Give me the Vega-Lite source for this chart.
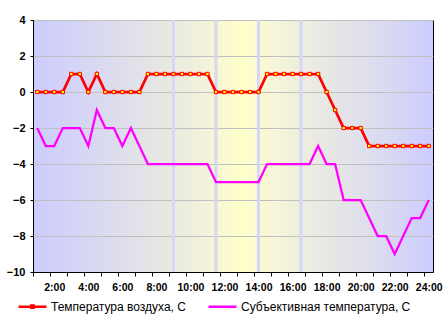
{
  "$schema": "https://vega.github.io/schema/vega-lite/v6.json",
  "width": 400,
  "height": 252,
  "autosize": {"type": "none"},
  "padding": {"left": 33, "top": 20, "right": 14, "bottom": 53},
  "background": "#ffffff",
  "view": {
    "fill": {"gradient": "linear", "x1": 0, "y1": 0, "x2": 1, "y2": 0, "stops": [
      {"offset": 0, "color": "#ccccff"},
      {"offset": 0.2, "color": "#dcdcee"},
      {"offset": 0.33, "color": "#e8e8e2"},
      {"offset": 0.44, "color": "#f4f4d9"},
      {"offset": 0.52, "color": "#ffffcc"},
      {"offset": 0.6, "color": "#f6f6d8"},
      {"offset": 0.7, "color": "#ebebe2"},
      {"offset": 0.82, "color": "#e0e0ec"},
      {"offset": 1, "color": "#ccccff"}
    ]},
    "stroke": "#000000",
    "strokeWidth": 1
  },
  "config": {
    "axis": {
      "labelFont": "Liberation Sans",
      "labelFontWeight": "bold",
      "labelColor": "#000000",
      "domainColor": "#000000",
      "tickColor": "#000000",
      "title": null
    },
    "legend": {
      "labelFont": "Liberation Sans",
      "labelFontSize": 12,
      "labelColor": "#000000",
      "labelLimit": 400
    }
  },
  "data": {"values": [
    {"h": 1, "air": 0, "subj": -2},
    {"h": 1.5, "air": 0, "subj": -3},
    {"h": 2, "air": 0, "subj": -3},
    {"h": 2.5, "air": 0, "subj": -2},
    {"h": 3, "air": 1, "subj": -2},
    {"h": 3.5, "air": 1, "subj": -2},
    {"h": 4, "air": 0, "subj": -3},
    {"h": 4.5, "air": 1, "subj": -1},
    {"h": 5, "air": 0, "subj": -2},
    {"h": 5.5, "air": 0, "subj": -2},
    {"h": 6, "air": 0, "subj": -3},
    {"h": 6.5, "air": 0, "subj": -2},
    {"h": 7, "air": 0, "subj": -3},
    {"h": 7.5, "air": 1, "subj": -4},
    {"h": 8, "air": 1, "subj": -4},
    {"h": 8.5, "air": 1, "subj": -4},
    {"h": 9, "air": 1, "subj": -4},
    {"h": 9.5, "air": 1, "subj": -4},
    {"h": 10, "air": 1, "subj": -4},
    {"h": 10.5, "air": 1, "subj": -4},
    {"h": 11, "air": 1, "subj": -4},
    {"h": 11.5, "air": 0, "subj": -5},
    {"h": 12, "air": 0, "subj": -5},
    {"h": 12.5, "air": 0, "subj": -5},
    {"h": 13, "air": 0, "subj": -5},
    {"h": 13.5, "air": 0, "subj": -5},
    {"h": 14, "air": 0, "subj": -5},
    {"h": 14.5, "air": 1, "subj": -4},
    {"h": 15, "air": 1, "subj": -4},
    {"h": 15.5, "air": 1, "subj": -4},
    {"h": 16, "air": 1, "subj": -4},
    {"h": 16.5, "air": 1, "subj": -4},
    {"h": 17, "air": 1, "subj": -4},
    {"h": 17.5, "air": 1, "subj": -3},
    {"h": 18, "air": 0, "subj": -4},
    {"h": 18.5, "air": -1, "subj": -4},
    {"h": 19, "air": -2, "subj": -6},
    {"h": 19.5, "air": -2, "subj": -6},
    {"h": 20, "air": -2, "subj": -6},
    {"h": 20.5, "air": -3, "subj": -7},
    {"h": 21, "air": -3, "subj": -8},
    {"h": 21.5, "air": -3, "subj": -8},
    {"h": 22, "air": -3, "subj": -9},
    {"h": 22.5, "air": -3, "subj": -8},
    {"h": 23, "air": -3, "subj": -7},
    {"h": 23.5, "air": -3, "subj": -7},
    {"h": 24, "air": -3, "subj": -6}
  ]},
  "encoding": {
    "x": {
      "field": "h",
      "type": "quantitative",
      "scale": {"domain": [0.75, 24.25], "nice": false, "zero": false},
      "axis": {
        "values": [0.75, 1.75, 2.75, 3.75, 4.75, 5.75, 6.75, 7.75, 8.75, 9.75, 10.75, 11.75, 12.75, 13.75, 14.75, 15.75, 16.75, 17.75, 18.75, 19.75, 20.75, 21.75, 22.75, 23.75, 2, 4, 6, 8, 10, 12, 14, 16, 18, 20, 22, 24],
        "labelExpr": "datum.value % 1 === 0 ? datum.value + ':00' : ''",
        "labelFontSize": 10.5,
        "labelOverlap": false,
        "labelFlush": false,
        "labelPadding": 6,
        "tickSize": 4,
        "tickOpacity": {"condition": {"test": "datum.value % 1 === 0", "value": 0}, "value": 1},
        "grid": false
      }
    }
  },
  "layer": [
    {
      "data": {"values": [{"b": 9}, {"b": 11.5}, {"b": 14}, {"b": 16.5}]},
      "mark": {"type": "rule", "stroke": "#d6d6f6", "strokeWidth": 3},
      "encoding": {"x": {"field": "b", "type": "quantitative"}}
    },
    {
      "mark": {"type": "line", "strokeWidth": 2.25},
      "encoding": {
        "y": {
          "field": "subj",
          "type": "quantitative",
          "scale": {"domain": [-10, 4], "nice": false},
          "axis": {
            "values": [-10, -8, -6, -4, -2, 0, 2, 4],
            "labelFontSize": 11,
            "labelOverlap": false,
            "labelFlush": false,
            "tickSize": 3,
            "labelPadding": 5,
            "grid": true,
            "gridColor": "#c0c0c0",
            "gridWidth": 1
          }
        },
        "color": {
          "datum": "Субъективная температура, С",
          "type": "nominal",
          "scale": {"domain": ["Температура воздуха, С", "Субъективная температура, С"], "range": ["#ff0000", "#ff00ff"]},
          "legend": {
            "title": null,
            "orient": "none",
            "direction": "horizontal",
            "legendX": -16,
            "legendY": 271,
            "padding": 0,
            "symbolType": "stroke",
            "symbolSize": 784,
            "symbolStrokeWidth": 2.5,
            "labelOffset": 3,
            "labelLimit": 400,
            "columnPadding": 17,
            "encode": {
              "symbols": {
                "update": {
                  "fill": [{"test": "datum.index === 0", "value": "#ffff00"}, {"value": "transparent"}],
                  "shape": [{"test": "datum.index === 0", "value": "M-1,0H1M-0.08,-0.08H0.08V0.08H-0.08Z"}, {"value": "stroke"}]
                }
              }
            }
          }
        }
      }
    },
    {
      "mark": {"type": "line", "strokeWidth": 2.75},
      "encoding": {
        "y": {
          "field": "air",
          "type": "quantitative",
          "axis": {
            "values": [-10, -8, -6, -4, -2, 0, 2, 4],
            "labelFontSize": 11,
            "labelOverlap": false,
            "labelFlush": false,
            "tickSize": 3,
            "labelPadding": 5,
            "grid": true,
            "gridColor": "#c0c0c0",
            "gridWidth": 1
          }
        },
        "color": {"datum": "Температура воздуха, С", "type": "nominal"}
      }
    },
    {
      "mark": {"type": "point", "shape": "square", "filled": true, "fill": "#ffff00", "stroke": "#ff0000", "strokeWidth": 1, "size": 11, "opacity": 1},
      "encoding": {
        "y": {
          "field": "air",
          "type": "quantitative",
          "axis": {
            "values": [-10, -8, -6, -4, -2, 0, 2, 4],
            "labelFontSize": 11,
            "labelOverlap": false,
            "labelFlush": false,
            "tickSize": 3,
            "labelPadding": 5,
            "grid": true,
            "gridColor": "#c0c0c0",
            "gridWidth": 1
          }
        }
      }
    }
  ]
}
